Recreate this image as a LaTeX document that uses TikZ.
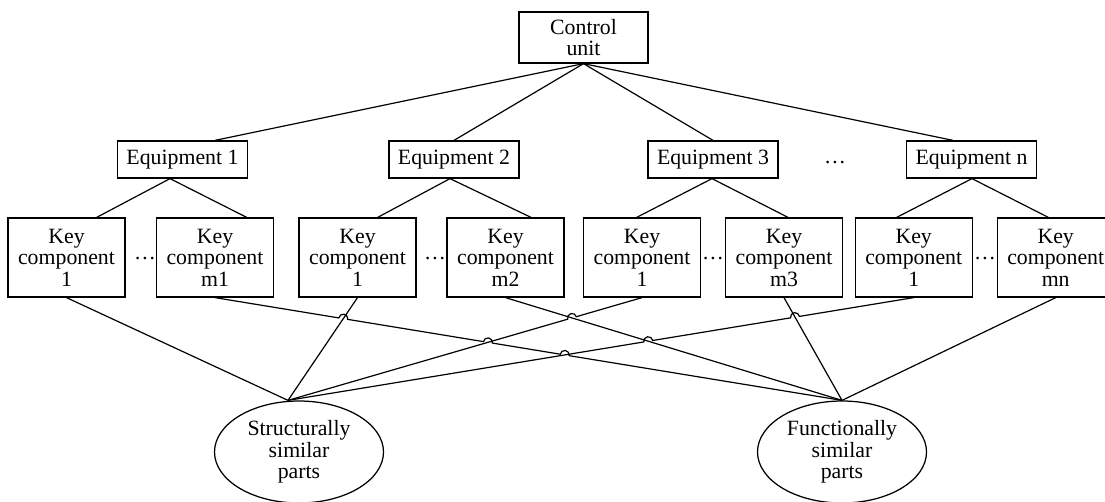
\documentclass[tikz,border=0pt]{standalone}
\usepackage{fontspec}
\setmainfont{Liberation Serif}
\usetikzlibrary{shapes.geometric,calc,intersections}
\begin{document}
\begin{tikzpicture}[x=1pt,y=1pt,
  every node/.style={font=\fontsize{21.8}{21.5}\selectfont},
  box/.style={draw, line width=1.25pt, inner sep=0pt, align=center},
  ekey/.style={box, minimum width=117, minimum height=79},
  equip/.style={box, minimum width=130, minimum height=37},
  part/.style={draw, ellipse, line width=1.25pt, inner sep=0pt, align=center, minimum width=169, minimum height=102},
  link/.style={line width=1.2pt},
  dotsmark/.style={anchor=base, inner sep=0pt}]
\useasboundingbox (0,0) rectangle (1105,-502);

% top
\node[box, minimum width=129, minimum height=51] (ctrl) at (583.5,-37.5) {Control\\unit};
\node[equip] (e1) at (182.5,-159.5) {Equipment 1};
\node[equip] (e2) at (454,-159.5) {Equipment 2};
\node[equip] (e3) at (713,-159.5) {Equipment 3};
\node[equip] (en) at (971.5,-159.5) {Equipment n};
\node[dotsmark] (d0) at (835,-164) {…};

% key components
\node[ekey] (k1) at (66.5,-257.5) {Key\\component\\1};
\node[ekey] (m1) at (215,-257.5) {Key\\component\\m1};
\node[ekey] (k2) at (357.5,-257.5) {Key\\component\\1};
\node[ekey] (m2) at (505.5,-257.5) {Key\\component\\m2};
\node[ekey] (k3) at (642,-257.5) {Key\\component\\1};
\node[ekey] (m3) at (784,-257.5) {Key\\component\\m3};
\node[ekey] (kn) at (913.7,-257.5) {Key\\component\\1};
\node[ekey] (mn) at (1055.7,-257.5) {Key\\component\\mn};
\node[dotsmark] (d1) at (145,-260) {…};
\node[dotsmark] (d2) at (435,-260) {…};
\node[dotsmark] (d3) at (713,-260) {…};
\node[dotsmark] (d4) at (985,-260) {…};

% parts
\node[part] (s) at (299,-452) {Structurally\\similar\\parts};
\node[part] (f) at (842,-452) {Functionally\\similar\\parts};
\coordinate (sT) at ([xshift=-11]s.north);
\coordinate (fT) at (f.north);

% control to equipment
\draw[link] (ctrl.south) -- ([xshift=32.5]e1.north);
\draw[link] (ctrl.south) -- (e2.north);
\draw[link] (ctrl.south) -- (e3.north);
\draw[link] (ctrl.south) -- ([xshift=-18.5]en.north);

% equipment to key components
\draw[link] ([xshift=-12.5]e1.south) -- ([xshift=30.2]k1.north);
\draw[link] ([xshift=-12.5]e1.south) -- ([xshift=31.7]m1.north);
\draw[link] ([xshift=-4]e2.south) -- ([xshift=20.2]k2.north);
\draw[link] ([xshift=-4]e2.south) -- ([xshift=25.5]m2.north);
\draw[link] ([xshift=-1]e3.south) -- ([xshift=-5.3]k3.north);
\draw[link] ([xshift=-1]e3.south) -- ([xshift=4]m3.north);
\draw[link] ([xshift=0.5]en.south) -- ([xshift=-17]kn.north);
\draw[link] ([xshift=0.5]en.south) -- ([xshift=-7.4]mn.north);

% intersections
\path[name path=p2] (m1.south) -- (fT);
\path[name path=p3] (k2.south) -- (sT);
\path[name path=p4] (m2.south) -- (fT);
\path[name path=p5] (sT) -- (k3.south);
\path[name path=p6] (m3.south) -- (fT);
\path[name path=p7] (sT) -- (kn.south);
\path[name intersections={of=p2 and p3, by=c23}];
\path[name intersections={of=p2 and p5, by=c25}];
\path[name intersections={of=p2 and p7, by=c27}];
\path[name intersections={of=p4 and p5, by=c45}];
\path[name intersections={of=p4 and p7, by=c47}];
\path[name intersections={of=p6 and p7, by=c67}];

% plain lines
\draw[link] (k1.south) -- (sT);
\draw[link] (k2.south) -- (sT);
\draw[link] (m2.south) -- (fT);
\draw[link] (m3.south) -- (fT);
\draw[link] (mn.south) -- (fT);

% lines with jumps
\draw[link] let \p1=($(fT)-(m1.south)$), \n1={atan2(\y1,\x1)} in
  (m1.south) -- ($(c23)!4.5pt!(m1.south)$) arc[start angle=\n1+180, end angle=\n1, radius=4.5pt]
  -- ($(c25)!4.5pt!(m1.south)$) arc[start angle=\n1+180, end angle=\n1, radius=4.5pt]
  -- ($(c27)!4.5pt!(m1.south)$) arc[start angle=\n1+180, end angle=\n1, radius=4.5pt]
  -- (fT);
\draw[link] let \p1=($(k3.south)-(sT)$), \n1={atan2(\y1,\x1)} in
  (sT) -- ($(c45)!4.5pt!(sT)$) arc[start angle=\n1+180, end angle=\n1, radius=4.5pt]
  -- (k3.south);
\draw[link] let \p1=($(kn.south)-(sT)$), \n1={atan2(\y1,\x1)} in
  (sT) -- ($(c47)!4.5pt!(sT)$) arc[start angle=\n1+180, end angle=\n1, radius=4.5pt]
  -- ($(c67)!4.5pt!(sT)$) arc[start angle=\n1+180, end angle=\n1, radius=4.5pt]
  -- (kn.south);
\end{tikzpicture}
\end{document}
